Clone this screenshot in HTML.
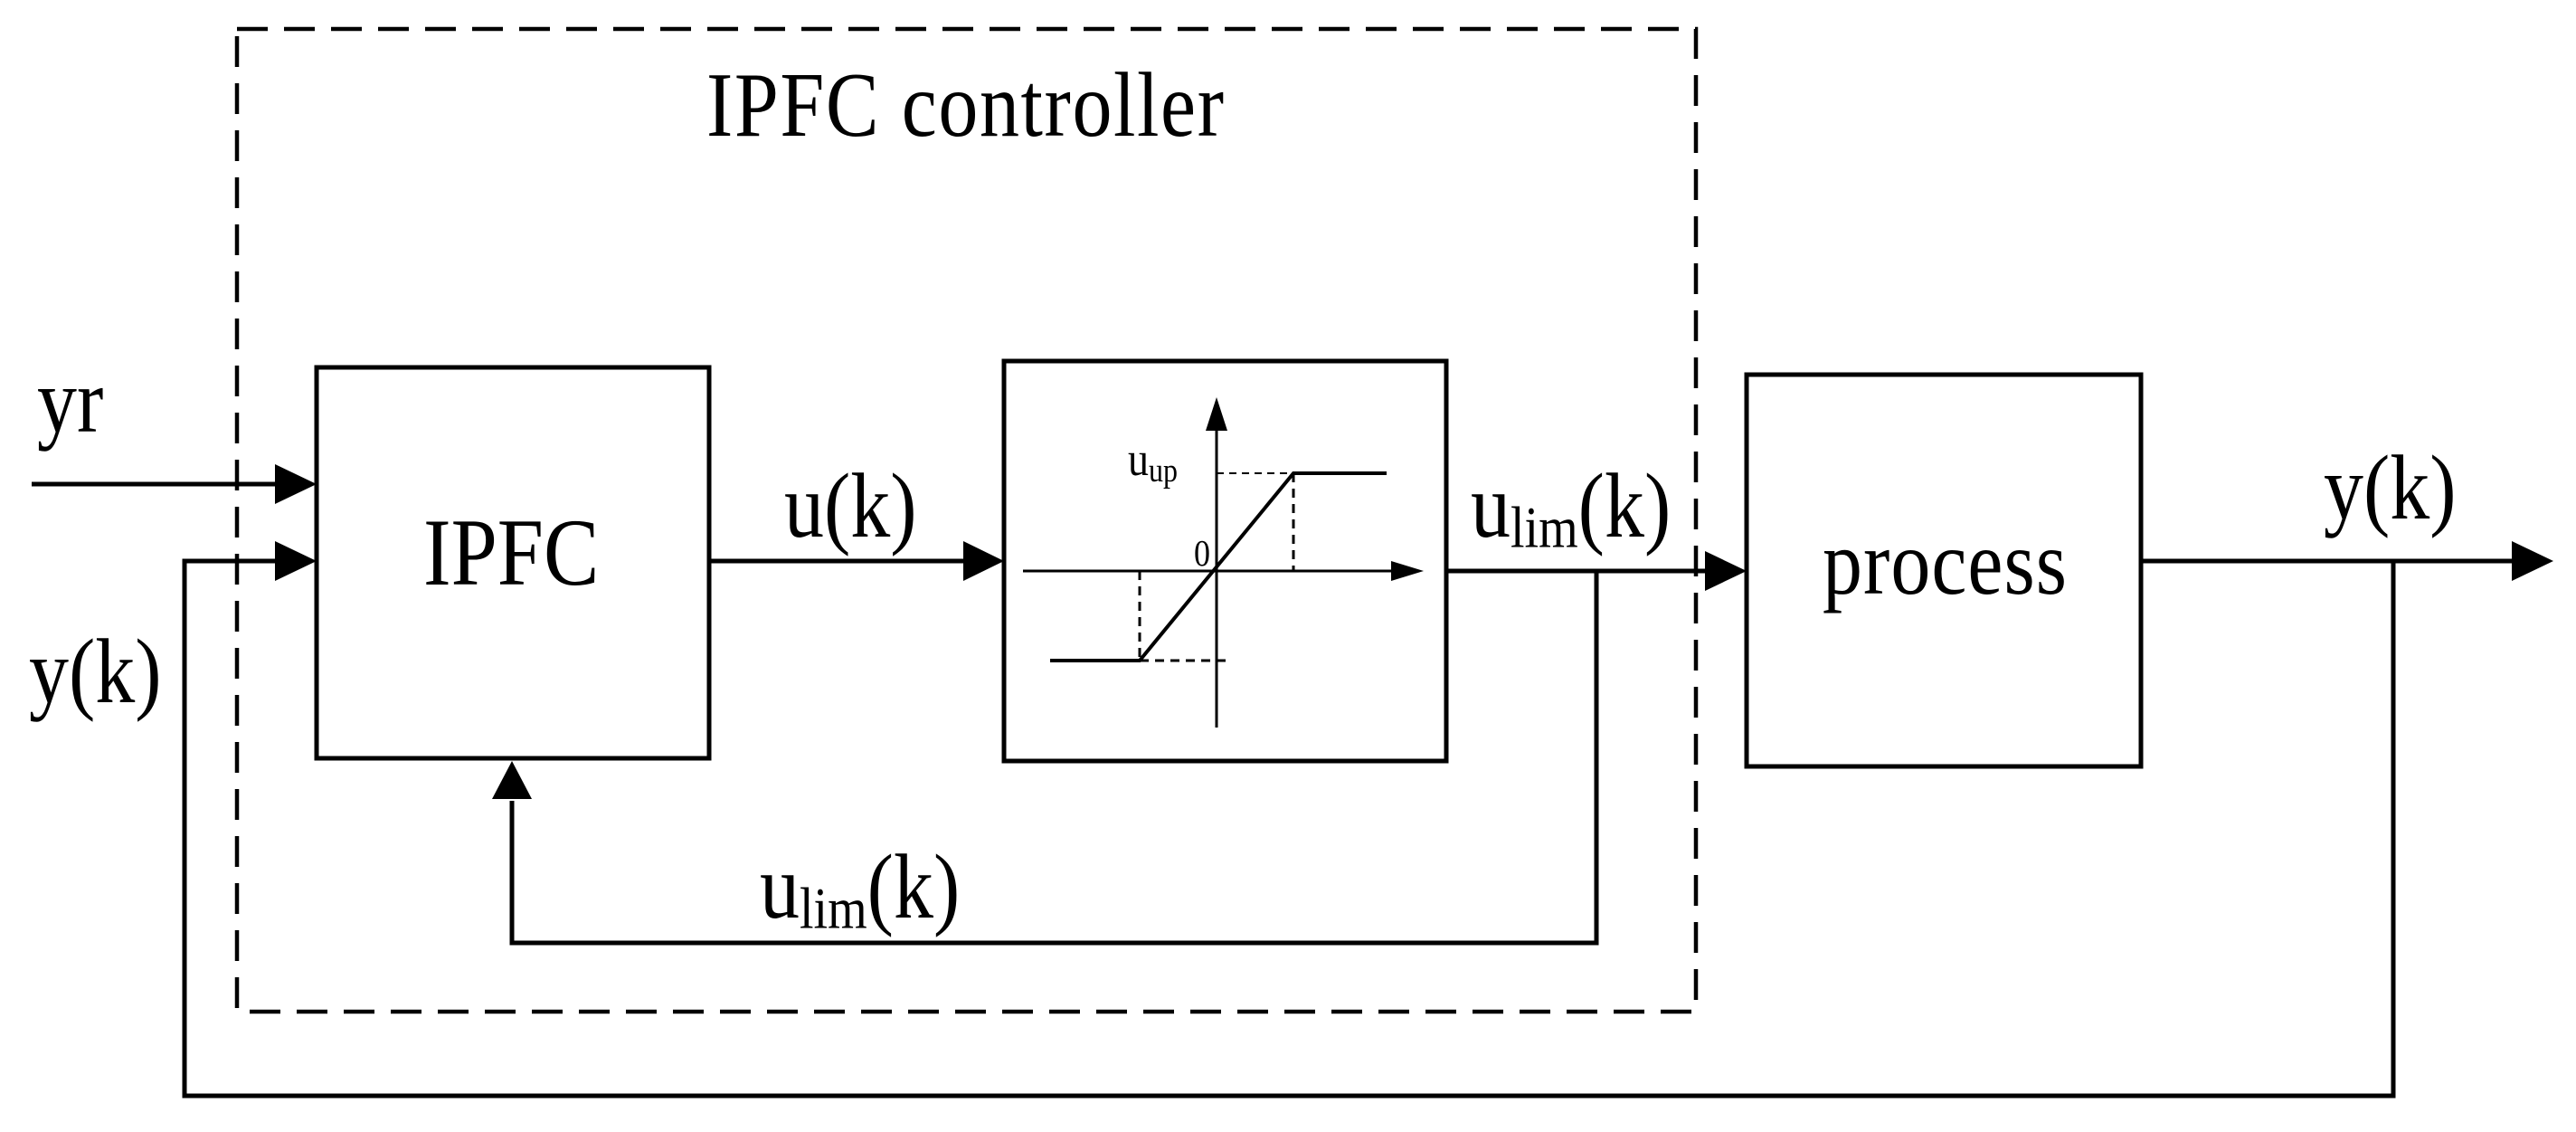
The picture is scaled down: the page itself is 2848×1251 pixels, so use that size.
<!DOCTYPE html>
<html><head><meta charset="utf-8"><style>html,body{margin:0;padding:0;background:#fff}svg{display:block}</style></head>
<body>
<svg width="2848" height="1251" viewBox="0 0 2848 1251" xmlns="http://www.w3.org/2000/svg" font-family="Liberation Serif, serif" fill="#000">
<rect width="2848" height="1251" fill="#fff"/>
<g fill="none" stroke="#000" stroke-width="5">
<rect x="262" y="32" width="1613" height="1086" stroke-dasharray="34,18" stroke-width="4.5"/>
<rect x="350" y="406" width="434" height="432"/>
<rect x="1110" y="399" width="489" height="442"/>
<rect x="1931" y="414" width="436" height="433"/>
<line x1="35" y1="535" x2="306" y2="535"/>
<polyline points="306,620 204,620 204,1211 2646,1211 2646,620"/>
<line x1="784" y1="620" x2="1067" y2="620"/>
<line x1="1599" y1="631" x2="1887" y2="631"/>
<polyline points="1765,631 1765,1042 566,1042 566,885"/>
<line x1="2367" y1="620" x2="2779" y2="620"/>
</g>
<g fill="#000">
<polygon points="304,513 350,535 304,557"/>
<polygon points="304,598 350,620 304,642"/>
<polygon points="1065,598 1110,620 1065,642"/>
<polygon points="1885,609 1931,631 1885,653"/>
<polygon points="2777,598 2823,620 2777,642"/>
<polygon points="544,883 566,841 588,883"/>
</g>
<g fill="none" stroke="#000" stroke-width="3">
<line x1="1345" y1="472" x2="1345" y2="804"/>
<line x1="1131" y1="631" x2="1540" y2="631"/>
<polyline points="1161,730 1260,730 1430,523 1533,523" stroke-width="4"/>
<line x1="1345" y1="523" x2="1430" y2="523" stroke-dasharray="8,6" stroke-width="2"/>
<line x1="1430" y1="523" x2="1430" y2="631" stroke-dasharray="10,7"/>
<line x1="1260" y1="631" x2="1260" y2="730" stroke-dasharray="10,7"/>
<line x1="1260" y1="730" x2="1358" y2="730" stroke-dasharray="10,7"/>
</g>
<polygon points="1333,476 1345,439 1357,476"/>
<polygon points="1538,620 1574,631 1538,642"/>
<g font-size="88">
<text transform="translate(781,150) scale(1,1.15)" textLength="572">IPFC controller</text>
<text transform="translate(468,646) scale(1,1.15)" font-size="92">IPFC</text>
<text transform="translate(41,477) scale(1,1.15)">yr</text>
<text transform="translate(32,776) scale(1,1.15)">y(k)</text>
<text transform="translate(867,593) scale(1,1.15)">u(k)</text>
<text transform="translate(1626,593) scale(1,1.15)">u<tspan font-size="56" dy="10">lim</tspan><tspan dy="-10">(k)</tspan></text>
<text transform="translate(2569,573) scale(1,1.15)">y(k)</text>
<text transform="translate(2015,656) scale(1,1.15)" textLength="270">process</text>
<text transform="translate(840,1014) scale(1,1.15)">u<tspan font-size="56" dy="10">lim</tspan><tspan dy="-10">(k)</tspan></text>
</g>
<text transform="translate(1247,525) scale(1,1.15)" font-size="46">u<tspan font-size="32" dy="6">up</tspan></text>
<text transform="translate(1320,625) scale(1,1.15)" font-size="36">0</text>
</svg>
</body></html>
